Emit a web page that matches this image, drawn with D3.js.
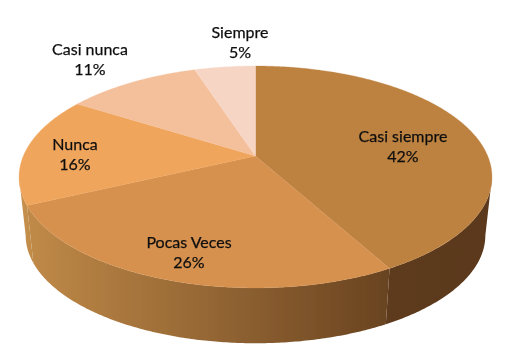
<!DOCTYPE html>
<html>
<head>
<meta charset="utf-8">
<script src="https://cdn.jsdelivr.net/npm/d3@7"></script>
<style>
html, body { margin: 0; padding: 0; background: #fff; }
svg { display: block; }
text { font-family: Lato, "Open Sans", sans-serif; font-size: 16px; fill: #111; stroke: #111; stroke-width: 0.25px; }
</style>
</head>
<body>
<div id="chartArea"></div>
<script>
// chart data
var categories = ["Casi siempre", "Pocas Veces", "Nunca", "Casi nunca", "Siempre"];
var percents = [42, 26, 16, 11, 5];
var topColors = ["#be8241", "#d7914f", "#f0a55b", "#f4c09b", "#f7d5c4"];
// side wall colours, left end / right end of each slice
var sideLeft = ["#5d3a1b", "#c08a48", "#c8914f", "#c8914f", "#c8914f"];
var sideRight = ["#5b391a", "#694320", "#c08a48", "#c08a48", "#c08a48"];

var width = 519, height = 355;

// perspective of the disc: apex, half sizes and foreshortening
var apexX = 255.5, apexY = 156;
var halfX = 232.2, halfY = 107, persp = 0.189;
// bottom ring of the wall
var wallY = 215, wallScale = 0.972;

// label centres, first line baseline
var labelPos = [[403, 142], [189, 248], [75, 150], [90, 55], [240, 38]];

var svg = d3.select("#chartArea").append("svg")
    .attr("width", width)
    .attr("height", height);

var defs = svg.append("defs");
defs.append("filter").attr("id", "soft")
    .append("feGaussianBlur").attr("stdDeviation", 0.45);
defs.append("filter").attr("id", "softText")
    .append("feGaussianBlur").attr("stdDeviation", 0.3);

var pie = d3.pie().sort(null);
var slices = pie(percents);
var color = d3.scaleOrdinal(categories, topColors);
var line = d3.line();

function projectTop(a) {
    var u = Math.sin(a), v = -Math.cos(a);
    var d = 1 - persp * v;
    return [apexX + halfX * u / d, apexY + halfY * v / d];
}

function projectBottom(a) {
    var p = projectTop(a);
    return [apexX + (p[0] - apexX) * wallScale, wallY + (p[1] - apexY) * wallScale];
}

function arcAngles(a0, a1) {
    var n = Math.max(2, Math.ceil((a1 - a0) / 0.01));
    return d3.range(n + 1).map(function (i) { return a0 + (a1 - a0) * i / n; });
}

var chart = svg.append("g").attr("filter", "url(#soft)");

// side wall runs between the widest points of the disc, so the outline stays straight there
var rightEdge = Math.acos(-persp);
var leftEdge = 2 * Math.PI - rightEdge;
slices.forEach(function (s, i) {
    var a0 = Math.max(s.startAngle, rightEdge);
    var a1 = Math.min(s.endAngle, leftEdge);
    if (a1 <= a0) return;
    var angles = arcAngles(a0, a1);
    var upper = angles.map(projectTop);
    var lower = angles.map(projectBottom).reverse();
    var xs = upper.concat(lower).map(function (p) { return p[0]; });
    var grad = defs.append("linearGradient")
        .attr("id", "wall" + i)
        .attr("gradientUnits", "userSpaceOnUse")
        .attr("x1", d3.min(xs)).attr("x2", d3.max(xs))
        .attr("y1", 0).attr("y2", 0);
    grad.append("stop").attr("offset", 0).attr("stop-color", sideLeft[i]);
    grad.append("stop").attr("offset", 1).attr("stop-color", sideRight[i]);
    chart.append("path")
        .attr("d", line(upper.concat(lower)) + "Z")
        .attr("fill", "url(#wall" + i + ")");
});

// top face
chart.selectAll("path.top")
    .data(slices)
    .enter().append("path")
    .attr("class", "top")
    .attr("fill", function (d, i) { return color(categories[i]); })
    .attr("stroke", function (d, i) { return color(categories[i]); })
    .attr("stroke-width", 0.3)
    .attr("d", function (d) {
        var pts = arcAngles(d.startAngle, d.endAngle).map(projectTop);
        return line([[apexX, apexY]].concat(pts)) + "Z";
    });

// labels
var labels = svg.append("g").attr("filter", "url(#softText)")
    .selectAll("text.label")
    .data(slices)
    .enter().append("text")
    .attr("class", "label")
    .attr("text-anchor", "middle")
    .attr("transform", function (d, i) { return "translate(" + labelPos[i] + ")"; });
labels.append("tspan").attr("x", 0).attr("y", 0)
    .text(function (d, i) { return categories[i]; });
labels.append("tspan").attr("x", 0).attr("y", 20)
    .text(function (d) { return d.value + "%"; });
</script>
</body>
</html>
